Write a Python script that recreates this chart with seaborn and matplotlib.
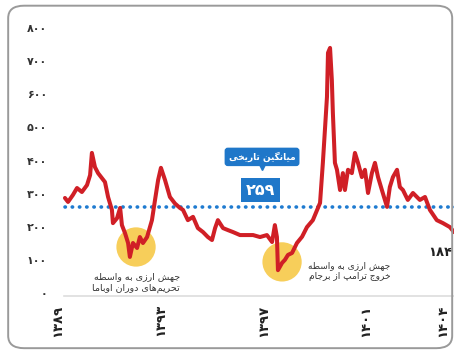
import matplotlib
matplotlib.use("Agg")
import matplotlib.pyplot as plt
import seaborn as sns
from matplotlib.patches import FancyBboxPatch

# values (year in solar calendar, rate in thousand rial)
years = [1389.27, 1389.39, 1389.58, 1389.74, 1389.93, 1390.13, 1390.25, 1390.32, 1390.44, 1390.56,
         1390.71, 1390.83, 1390.95, 1391.10, 1391.14, 1391.30, 1391.42, 1391.49, 1391.61, 1391.73,
         1391.80, 1391.92, 1392.08, 1392.19, 1392.31, 1392.47, 1392.66, 1392.78, 1392.90, 1393.01,
         1393.17, 1393.36, 1393.56, 1393.75, 1393.87, 1394.06, 1394.26, 1394.45, 1394.65, 1394.84,
         1395.00, 1395.12, 1395.23, 1395.43, 1395.62, 1395.82, 1396.09, 1396.36, 1396.60, 1396.87,
         1397.14, 1397.34, 1397.45, 1397.53, 1397.57, 1397.73, 1397.84, 1397.96, 1398.12, 1398.31,
         1398.51, 1398.70, 1398.93, 1399.21, 1399.32, 1399.40, 1399.48, 1399.52, 1399.60, 1399.67,
         1399.71, 1399.79, 1399.87, 1399.99, 1400.10, 1400.18, 1400.30, 1400.45, 1400.57, 1400.69,
         1400.84, 1400.96, 1401.08, 1401.23, 1401.35, 1401.47, 1401.62, 1401.82, 1401.93, 1402.05,
         1402.21, 1402.32, 1402.44, 1402.63, 1402.83, 1403.10, 1403.30, 1403.49, 1403.76, 1404.00,
         1404.27, 1404.43]
rates = [287, 275, 296, 317, 305, 326, 356, 423, 380, 362,
         347, 335, 290, 251, 211, 226, 257, 205, 181, 151,
         109, 151, 136, 169, 151, 169, 220, 281, 341, 378,
         341, 290, 270, 257, 251, 220, 230, 196, 184, 169,
         160, 196, 220, 196, 190, 184, 175, 175, 175, 169,
         175, 154, 205, 169, 69, 91, 100, 115, 121, 151,
         170, 199, 220, 272, 393, 492, 592, 725, 740, 643,
         544, 393, 372, 311, 362, 311, 372, 362, 423, 393,
         350, 372, 302, 362, 393, 350, 311, 260, 320, 350,
         372, 320, 311, 281, 302, 281, 290, 251, 220, 211,
         199, 184]

hist_mean = 259
last_value = "۱۸۴"
mean_label = "میانگین تاریخی"
mean_value = "۲۵۹"

y_ticks = [0, 100, 200, 300, 400, 500, 600, 700, 800]
y_labels = ["۰", "۱۰۰", "۲۰۰", "۳۰۰", "۴۰۰", "۵۰۰", "۶۰۰", "۷۰۰", "۸۰۰"]
x_ticks = [1389, 1393, 1397, 1401, 1404]
x_labels = ["۱۳۸۹", "۱۳۹۳", "۱۳۹۷", "۱۴۰۱", "۱۴۰۴"]

shock_x = [1392.04, 1397.73]
shock_y = [139, 94]
note1 = "جهش ارزی به واسطه\nتحریم‌های دوران اوباما"
note2 = "جهش ارزی به واسطه\nخروج ترامپ از برجام"

# minimal Persian shaping (matplotlib has no complex text layout)
FORMS = {
    'ا': ('\uFE8D', '\uFE8E', None, None),
    'ب': ('\uFE8F', '\uFE90', '\uFE91', '\uFE92'),
    'پ': ('\uFB56', '\uFB57', '\uFB58', '\uFB59'),
    'ت': ('\uFE95', '\uFE96', '\uFE97', '\uFE98'),
    'ج': ('\uFE9D', '\uFE9E', '\uFE9F', '\uFEA0'),
    'ح': ('\uFEA1', '\uFEA2', '\uFEA3', '\uFEA4'),
    'خ': ('\uFEA5', '\uFEA6', '\uFEA7', '\uFEA8'),
    'د': ('\uFEA9', '\uFEAA', None, None),
    'ر': ('\uFEAD', '\uFEAE', None, None),
    'ز': ('\uFEAF', '\uFEB0', None, None),
    'س': ('\uFEB1', '\uFEB2', '\uFEB3', '\uFEB4'),
    'ش': ('\uFEB5', '\uFEB6', '\uFEB7', '\uFEB8'),
    'ط': ('\uFEC1', '\uFEC2', '\uFEC3', '\uFEC4'),
    'گ': ('\uFB92', '\uFB93', '\uFB94', '\uFB95'),
    'م': ('\uFEE1', '\uFEE2', '\uFEE3', '\uFEE4'),
    'ن': ('\uFEE5', '\uFEE6', '\uFEE7', '\uFEE8'),
    'ه': ('\uFEE9', '\uFEEA', '\uFEEB', '\uFEEC'),
    'و': ('\uFEED', '\uFEEE', None, None),
    'ی': ('\uFBFC', '\uFBFD', '\uFBFE', '\uFBFF'),
}


def fa(text):
    lines = []
    for line in text.split("\n"):
        out = []
        for i, c in enumerate(line):
            if c not in FORMS:
                out.append(c)
                continue
            prev = line[i - 1] if i > 0 else ''
            nxt = line[i + 1] if i + 1 < len(line) else ''
            jp = prev in FORMS and FORMS[prev][2] is not None
            jn = FORMS[c][2] is not None and nxt in FORMS
            iso, fin, ini, med = FORMS[c]
            out.append(med if jp and jn else fin if jp else ini if jn else iso)
        lines.append(''.join(ch for ch in reversed(out) if ch != '\u200c'))
    return "\n".join(lines)


sns.set_style("white")
plt.rcParams['font.family'] = ['DejaVu Sans']

fig = plt.figure(figsize=(4.54, 3.56), dpi=100)
ax = fig.add_axes([0.1278, 0.1685, 0.8722, 0.79])

# rounded frame of the card
fig.patches.append(FancyBboxPatch((0.018, 0.022), 0.978, 0.962,
                                  boxstyle="round,pad=0,rounding_size=0.035",
                                  transform=fig.transFigure, fill=False,
                                  edgecolor="#9a9a9a", linewidth=1.4, zorder=0))

# highlight circles
sns.scatterplot(x=shock_x, y=shock_y, s=800, color="#f7c948", edgecolor="none",
                alpha=0.9, ax=ax, zorder=1, legend=False)

# historical mean
ax.plot([years[0], 1404.6], [hist_mean, hist_mean], color="#1f7bd0", linewidth=2.6,
        linestyle=(0, (0.1, 1.9)), dash_capstyle="round", zorder=2)

sns.lineplot(x=years, y=rates, color="#d01f26", linewidth=2.9, ax=ax, zorder=3)

ax.text(1396.95, 411, fa(mean_label), color="white", fontsize=6.5, fontweight="bold",
        ha="center", va="center", zorder=5,
        bbox=dict(boxstyle="round,pad=0.45,rounding_size=0.35", fc="#1f77c9", ec="none"))
ax.plot([1396.95], [383], marker="v", markersize=6, color="#1f77c9", zorder=4)
ax.text(1396.88, 311, mean_value, color="white", fontsize=11.5, fontweight="bold",
        ha="center", va="center", zorder=5,
        bbox=dict(boxstyle="square,pad=0.3", fc="#1f77c9", ec="none"))

ax.text(1393.75, 62, fa(note1), fontsize=6.8, color="#333333", ha="right", va="top",
        multialignment="right", linespacing=1.3, zorder=5)
ax.text(1401.95, 96, fa(note2), fontsize=6.5, color="#333333", ha="right", va="top",
        multialignment="right", linespacing=1.3, zorder=5)
ax.text(1404.36, 121, last_value, fontsize=9.5, color="#222222", fontweight="bold",
        ha="right", va="center", zorder=5)

ax.set_xlim(1389, 1404.43)
ax.set_ylim(-9, 840)
ax.set_yticks(y_ticks)
ax.set_yticklabels(y_labels, fontsize=8, color="#333333", fontweight="bold")
ax.set_xticks(x_ticks)
ax.set_xticklabels(x_labels, rotation=90, fontsize=9.5, color="#222222", fontweight="bold")
ax.tick_params(axis="y", length=0, pad=8)
ax.tick_params(axis="x", length=0, pad=6)
for side in ["top", "right", "left"]:
    ax.spines[side].set_visible(False)
ax.spines["bottom"].set_color("#dddddd")
ax.spines["bottom"].set_linewidth(1.2)
ax.spines["bottom"].set_bounds(1389.25, 1404.43)
ax.set_xlabel("")
ax.set_ylabel("")

fig.savefig("out.png", dpi=100)
